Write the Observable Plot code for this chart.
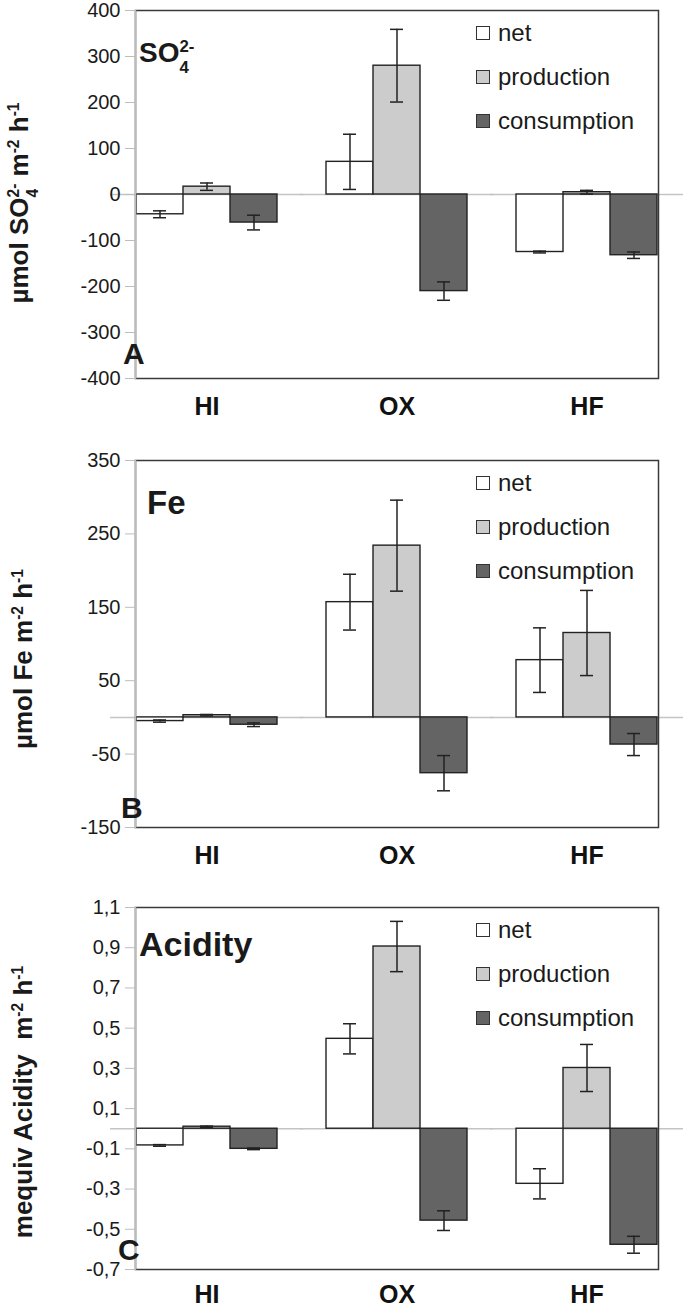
<!DOCTYPE html>
<html>
<head>
<meta charset="utf-8">
<script src="https://cdn.jsdelivr.net/npm/d3@7"></script>
<script src="https://cdn.jsdelivr.net/npm/@observablehq/plot@0.6"></script>
<style>
  html, body { margin: 0; padding: 0; background: #fff; }
  body { font-family: "Liberation Sans", Arial, sans-serif; color: #1a1a1a; }
  #root { position: relative; width: 685px; height: 1308px; overflow: hidden; }
  .panel { position: relative; width: 685px; }
  .panel svg { display: block; }
  .title { position: absolute; font-weight: bold; line-height: 1; white-space: nowrap; }
  .letter { position: absolute; font-weight: bold; line-height: 1; font-size: 30px; }
  .ylab { position: absolute; font-weight: bold; font-size: 26px; line-height: 1; white-space: nowrap;
          transform: translate(-50%, -50%) rotate(-90deg); }
  .stack { display: inline-flex; flex-direction: column; font-size: 0.6em; line-height: 1.25; vertical-align: 0.6em; }
  .ylab sup { font-size: 0.6em; vertical-align: 0.55em; line-height: 0; }
  .legend { position: absolute; left: 476px; font-size: 24px; }
  .legend .row { position: absolute; left: 0; display: flex; align-items: center; transform: translateY(-50%); white-space: nowrap; }
  .legend .sw { width: 12px; height: 12px; border: 1.5px solid #333; margin-right: 8px; }
</style>
</head>
<body>
<div id="root"></div>
<script>
// ---------- data ----------
const categories = ["HI", "OX", "HF"];
const series = ["net", "production", "consumption"];
const seriesColors = ["#ffffff", "#cccccc", "#646464"];

// Panel A: SO4 2- (µmol SO4 m-2 h-1)
const so4Net = [-43, 71, -125];
const so4NetErr = [7.5, 60, 2];
const so4Prod = [17, 280, 5];
const so4ProdErr = [8, 79, 4];
const so4Cons = [-61, -210, -132];
const so4ConsErr = [16, 20, 7];
const so4Ticks = [-400, -300, -200, -100, 0, 100, 200, 300, 400];
const so4TickLabels = ["-400", "-300", "-200", "-100", "0", "100", "200", "300", "400"];

// Panel B: Fe (µmol Fe m-2 h-1)
const feNet = [-5, 157, 78];
const feNetErr = [1.5, 38, 44];
const feProd = [3, 234, 115];
const feProdErr = [1, 62, 58];
const feCons = [-10, -76, -37];
const feConsErr = [2.5, 24, 15];
const feTicks = [-150, -50, 50, 150, 250, 350];
const feTickLabels = ["-150", "-50", "50", "150", "250", "350"];

// Panel C: Acidity (mequiv m-2 h-1)
const acNet = [-0.083, 0.447, -0.274];
const acNetErr = [0.004, 0.075, 0.075];
const acProd = [0.01, 0.906, 0.302];
const acProdErr = [0.003, 0.125, 0.117];
const acCons = [-0.1, -0.457, -0.577];
const acConsErr = [0.004, 0.049, 0.042];
const acTicks = [-0.7, -0.5, -0.3, -0.1, 0.1, 0.3, 0.5, 0.7, 0.9, 1.1];
const acTickLabels = ["-0,7", "-0,5", "-0,3", "-0,1", "0,1", "0,3", "0,5", "0,7", "0,9", "1,1"];

// ---------- drawing ----------
function buildRows(vals, errs) {
  return categories.flatMap((c, i) => series.map((s, j) => ({
    cat: c, series: s, value: vals[j][i], err: errs[j][i]
  })));
}

function drawPanel(cfg) {
  const rows = buildRows(cfg.values, cfg.errors);
  const ink = "#222";
  const plot = Plot.plot({
    width: 685,
    height: cfg.height,
    marginLeft: 111,
    marginRight: 3,
    marginTop: cfg.mt,
    marginBottom: cfg.mb,
    style: { fontFamily: "Liberation Sans, Arial, sans-serif", fontSize: "20px", color: "#1a1a1a", background: "white" },
    fx: { domain: categories, paddingInner: 0.247, paddingOuter: 0.126, label: null },
    x: { domain: series, padding: 0, axis: null },
    y: { domain: cfg.domain, label: null },
    color: { domain: series, range: seriesColors },
    marks: [
      Plot.ruleY(categories.map(c => ({ cat: c, v: 0 })), { fx: "cat", y: "v", stroke: "#c4c4c4", strokeWidth: 1.5, insetLeft: -25, insetRight: -25 }),
      Plot.barY(rows, { fx: "cat", x: "series", y: "value", fill: "series", stroke: ink, strokeWidth: 1.4 }),
      Plot.ruleX(rows, { fx: "cat", x: "series", y1: d => d.value - d.err, y2: d => d.value + d.err, stroke: ink, strokeWidth: 1.5 }),
      Plot.tickY(rows, { fx: "cat", x: "series", y: d => d.value - d.err, stroke: ink, strokeWidth: 1.5, insetLeft: 17, insetRight: 17 }),
      Plot.tickY(rows, { fx: "cat", x: "series", y: d => d.value + d.err, stroke: ink, strokeWidth: 1.5, insetLeft: 17, insetRight: 17 }),
      Plot.frame({ facet: "super", stroke: "#3a3a3a", strokeWidth: 1.5 }),
      Plot.frame({ facet: "super", anchor: "left", stroke: "#bdbdbd", strokeWidth: 1.5 }),
      Plot.axisY({ ticks: cfg.ticks, tickSize: 10, tickPadding: 5, stroke: "#bdbdbd", fill: "#1a1a1a",
                   fontSize: 20, tickFormat: d => cfg.tickLabels[cfg.ticks.indexOf(d)], label: null }),
      Plot.axisFx({ anchor: "bottom", tickSize: 0, tickPadding: cfg.fxPad, fontSize: 25, fontWeight: "bold", fill: "#111", label: null })
    ]
  });
  const div = document.createElement("div");
  div.className = "panel";
  div.style.height = cfg.height + "px";
  div.appendChild(plot);
  div.insertAdjacentHTML("beforeend", cfg.overlay);
  document.getElementById("root").appendChild(div);
}

function legendHTML(top) {
  const offs = [23, 67, 111];
  return `<div class="legend" style="top:${top}px">` + series.map((s, j) =>
    `<div class="row" style="top:${offs[j]}px"><span class="sw" style="background:${seriesColors[j]}"></span>${s}</div>`
  ).join("") + `</div>`;
}

// Panel A occupies 0..425, frame 10..378
drawPanel({
  height: 425, mt: 10, mb: 47, domain: [-400, 400], fxPad: 19,
  values: [so4Net, so4Prod, so4Cons], errors: [so4NetErr, so4ProdErr, so4ConsErr],
  ticks: so4Ticks, tickLabels: so4TickLabels,
  overlay: `<div class="title" style="left:139px;top:37px;font-size:28px">SO<span class="stack"><span>2-</span><span>4</span></span></div>
            <div class="letter" style="left:123px;top:339px">A</div>
            <div class="ylab" style="left:23px;top:203px">µmol SO<span class="stack"><span>2-</span><span>4</span></span> m<sup>-2</sup> h<sup>-1</sup></div>`
            + legendHTML(10)
});

// Panel B occupies 425..870, frame 460..827
drawPanel({
  height: 445, mt: 35, mb: 43, domain: [-150, 350], fxPad: 19,
  values: [feNet, feProd, feCons], errors: [feNetErr, feProdErr, feConsErr],
  ticks: feTicks, tickLabels: feTickLabels,
  overlay: `<div class="title" style="left:147px;top:61px;font-size:33px">Fe</div>
            <div class="letter" style="left:121px;top:368px">B</div>
            <div class="ylab" style="left:23px;top:234px">µmol Fe m<sup>-2</sup> h<sup>-1</sup></div>`
            + legendHTML(35)
});

// Panel C occupies 870..1308, frame 907..1269
drawPanel({
  height: 438, mt: 37, mb: 39, domain: [-0.7, 1.1], fxPad: 16,
  values: [acNet, acProd, acCons], errors: [acNetErr, acProdErr, acConsErr],
  ticks: acTicks, tickLabels: acTickLabels,
  overlay: `<div class="title" style="left:139px;top:57px;font-size:34px">Acidity</div>
            <div class="letter" style="left:118px;top:365px">C</div>
            <div class="ylab" style="left:23px;top:232px">mequiv Acidity&nbsp; m<sup>-2</sup> h<sup>-1</sup></div>`
            + legendHTML(37)
});
</script>
</body>
</html>
